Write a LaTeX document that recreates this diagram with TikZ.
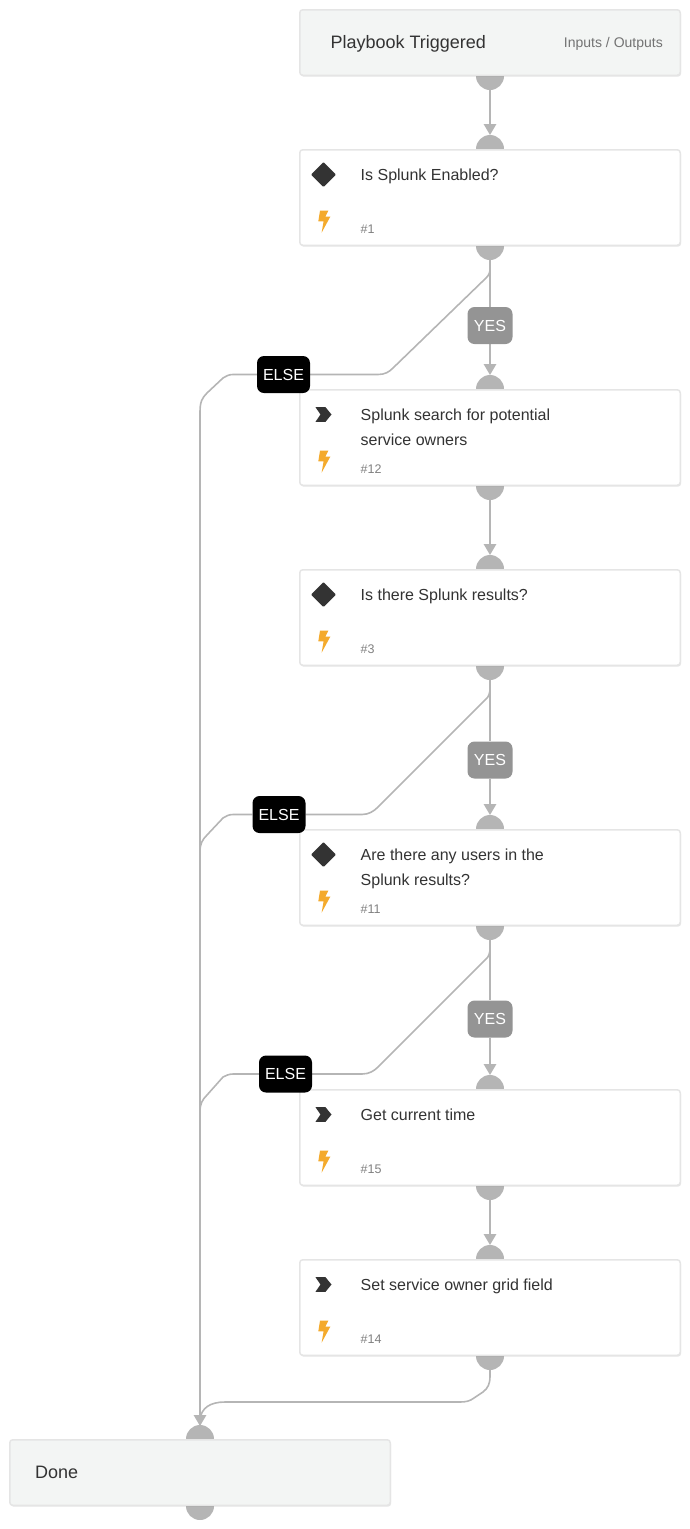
\documentclass[tikz,border=0pt]{standalone}
\usepackage{fontspec}
\setmainfont{Liberation Sans}
\usetikzlibrary{positioning,arrows.meta,shadows,backgrounds}

\definecolor{linegray}{HTML}{B5B5B5}
\definecolor{inkgray}{HTML}{333333}
\definecolor{headfill}{HTML}{F3F5F4}
\definecolor{boltorange}{HTML}{F4AA2C}

\tikzset{
  cardbox/.style={draw=black!10, line width=1.5pt, rounded corners=3pt, fill=white, minimum width=380.5pt, minimum height=95.5pt, inner sep=0pt,
    drop shadow={shadow xshift=0.8pt, shadow yshift=-1.4pt, opacity=.1, fill=black}},
  headbox/.style={cardbox, fill=headfill, minimum height=65.5pt},
  edgeline/.style={draw=linegray, line width=1.6pt},
  arrowline/.style={edgeline, -{Triangle[length=11pt,width=12.5pt]}},
  yeslabel/.style={fill=black!42, text=white, rounded corners=7pt, minimum width=45pt, minimum height=37pt, inner sep=0pt, font=\fontsize{16}{18}\selectfont},
  elselabel/.style={fill=black, text=white, rounded corners=7pt, minimum width=53pt, minimum height=37pt, inner sep=0pt, font=\fontsize{16}{18}\selectfont},
  titletext/.style={anchor=north west, inner sep=0pt, align=left, text=inkgray, font=\fontsize{16}{25}\selectfont},
  numtext/.style={anchor=base west, inner sep=0pt, text=black!50, font=\fontsize{12.5}{14}\selectfont},
  headtext/.style={anchor=base west, inner sep=0pt, text=inkgray, font=\fontsize{18}{20}\selectfont},
  porttext/.style={anchor=base east, inner sep=0pt, text=black!55, font=\fontsize{14}{16}\selectfont},
  portdot/.style={fill=linegray},
  boltmark/.pic={\fill[boltorange] (-4.3,-11.3) -- (4,-11.3) -- (1,-5.3) -- (6,-5.3) -- (-2.7,10.7) -- (-.7,-.7) -- (-6,-.7) -- cycle;},
  decisionmark/.pic={\fill[inkgray, rounded corners=1pt] (0,-12.5) -- (12.5,0) -- (0,12.5) -- (-12.5,0) -- cycle;},
  taskmark/.pic={\fill[inkgray] (-8,-7.3) -- (2,-7.3) -- (8,0) -- (2,7.3) -- (-8,7.3) -- (-3,0) -- cycle;}
}

\begin{document}
\begin{tikzpicture}[x=1pt,y=-1pt]
  \useasboundingbox (0,0) rectangle (690,1529);

  % the cards
  \node[headbox] (trigger) at (490,42.5) {};
  \node[headbox] (done) at (200,1472.5) {};
  \node[cardbox] (enabled) at (490,197.5) {};
  \node[cardbox] (search) at (490,437.5) {};
  \node[cardbox] (results) at (490,617.5) {};
  \node[cardbox] (users) at (490,877.5) {};
  \node[cardbox] (time) at (490,1137.5) {};
  \node[cardbox] (owner) at (490,1307.5) {};

  % half circles behind the cards
  \begin{scope}[on background layer]
    \foreach \card in {trigger,enabled,search,results,users,time,owner,done}
      \fill[portdot] (\card.south) circle (14);
    \foreach \card in {enabled,search,results,users,time,owner,done}
      \fill[portdot] (\card.north) circle (14);
  \end{scope}

  \node[headtext] (triggertext) at (330.3,48) {Playbook Triggered};
  \node[porttext] (ports) at (663,47) {Inputs / Outputs};
  \node[headtext] (donetext) at (35,1478) {Done};

  \foreach \card/\ttl/\num in {enabled/Is Splunk Enabled?/\#1,
      search/{Splunk search for potential\\service owners}/\#12,
      results/Is there Splunk results?/\#3,
      users/{Are there any users in the\\Splunk results?}/\#11,
      time/Get current time/\#15,
      owner/Set service owner grid field/\#14}{
    \node[titletext] (\card title) at ([xshift=61.5pt,yshift=-19.4pt]\card.north west) {\ttl};
    \node[numtext] (\card num) at ([xshift=61.5pt,yshift=-84.3pt]\card.north west) {\num};
    \pic at ([xshift=25.3pt,yshift=-73pt]\card.north west) {boltmark};
  }

  \foreach \card in {enabled,results,users}
    \pic at ([xshift=24.5pt,yshift=-25.5pt]\card.north west) {decisionmark};
  \foreach \card in {search,time,owner}
    \pic at ([xshift=24.5pt,yshift=-25.5pt]\card.north west) {taskmark};

  % labels on the branches
  \node[yeslabel] (yesa) at (490,325.5) {YES};
  \node[yeslabel] (yesb) at (490,760) {YES};
  \node[yeslabel] (yesc) at (490,1019) {YES};
  \node[elselabel] (elsea) at (283.5,374.5) {ELSE};
  \node[elselabel] (elseb) at (279,814.5) {ELSE};
  \node[elselabel] (elsec) at (285.5,1074) {ELSE};
  \coordinate (donetip) at (200,1426);

  \begin{scope}[on background layer]
    \draw[arrowline] ([yshift=-14pt]trigger.south) -- ([yshift=14pt]enabled.north);
    \draw[edgeline] (enabled.south) -- (yesa);
    \draw[arrowline] (yesa) -- ([yshift=14pt]search.north);
    \draw[arrowline] ([yshift=-14pt]search.south) -- ([yshift=14pt]results.north);
    \draw[edgeline] (results.south) -- (yesb);
    \draw[arrowline] (yesb) -- ([yshift=14pt]users.north);
    \draw[edgeline] (users.south) -- (yesc);
    \draw[arrowline] (yesc) -- ([yshift=14pt]time.north);
    \draw[arrowline] ([yshift=-14pt]time.south) -- ([yshift=14pt]owner.north);

    % else branches
    \draw[edgeline] (enabled.south) -- (490,268) .. controls (490,273) and (489,275) .. (486,278) -- (393,368) .. controls (389,372) and (385,374.5) .. (378,374.5) -- (elsea);
    \draw[edgeline] (elsea) -- (233,374.5) .. controls (229,374.5) and (226,376) .. (223,378) -- (207,393) .. controls (202,398) and (200,402) .. (200,412) -- (donetip);
    \draw[edgeline] (results.south) -- (490,688) .. controls (490,693) and (489,697) .. (485,700) -- (378,807) .. controls (374,811) and (369,814.5) .. (362,814.5) -- (elseb);
    \draw[edgeline] (elseb) -- (233,814.5) .. controls (229,814.5) and (226,816) .. (223,818) -- (207,835) .. controls (202,840) and (200,844) .. (200,852);
    \draw[edgeline] (users.south) -- (490,948) .. controls (490,953) and (489,957) .. (485,960) -- (378,1067) .. controls (374,1071) and (369,1074) .. (362,1074) -- (elsec);
    \draw[edgeline] (elsec) -- (233,1074) .. controls (229,1074) and (226,1075.5) .. (223,1077) -- (207,1095) .. controls (202,1100) and (200,1104) .. (200,1112);
    \draw[edgeline] ([yshift=-14pt]owner.south) -- (490,1376) .. controls (490,1384) and (488,1388) .. (483,1392) -- (474,1398) .. controls (470,1401) and (466,1402) .. (460,1402) -- (225,1402) .. controls (210,1402) and (201,1408) .. (200,1420);
    \draw[arrowline] (200,1414) -- (donetip);
  \end{scope}
\end{tikzpicture}
\end{document}
